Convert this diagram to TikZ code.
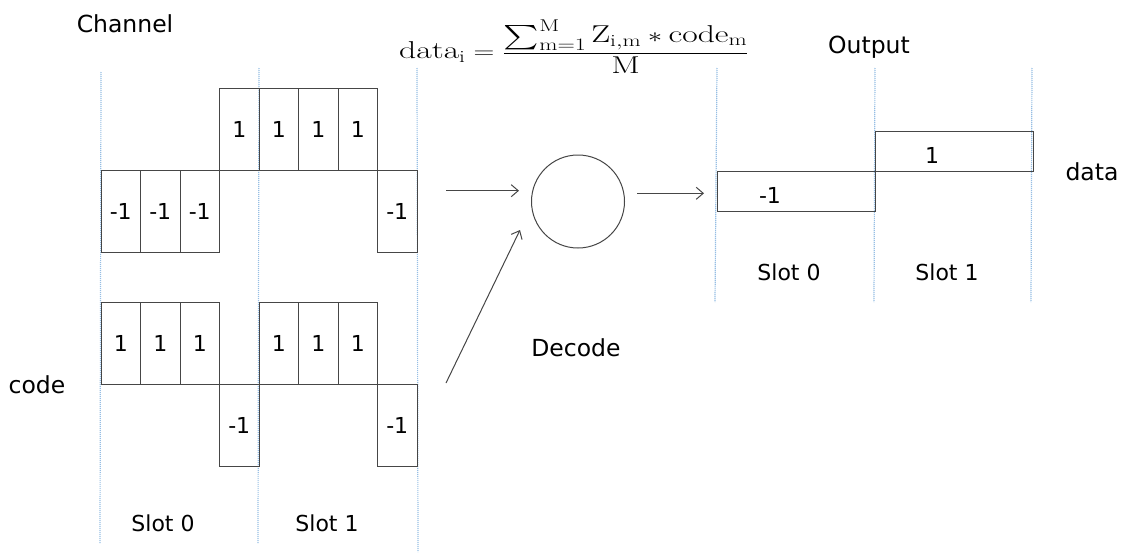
\documentclass[tikz,border=0pt]{standalone}
\usepackage{amsmath,amssymb}
\usepackage{graphicx}
\usepackage{fontspec}
\setsansfont{DejaVu Sans}
\usepackage{tikz}
\usetikzlibrary{arrows.meta,calc,positioning}
\usepackage{xcolor}
\definecolor{slotblue}{RGB}{150,190,228}
\definecolor{boxgray}{RGB}{70,70,70}

\begin{document}
\begin{tikzpicture}[x=1pt, y=-1pt,
  chip/.style={draw=boxgray, line width=1pt, minimum width=39.5pt, minimum height=82pt, inner sep=0pt, font=\sffamily\fontsize{22}{26}\selectfont},
  outbox/.style={draw=boxgray, line width=1pt, minimum width=158pt, minimum height=40pt, inner sep=0pt},
  num/.style={font=\sffamily\fontsize{22}{26}\selectfont},
  lbl/.style={font=\sffamily\fontsize{23.5}{28}\selectfont},
  slot/.style={draw=slotblue, line width=1.2pt, dash pattern=on 1.2pt off 0.8pt},
  conn/.style={draw=boxgray, line width=1pt, -{Straight Barb[length=7pt,width=12pt]}}]
\useasboundingbox (0,0) rectangle (1127,554);
% slot separators
\draw[slot] (101,72) -- (100,543);
\draw[slot] (259,68) -- (258,543);
\draw[slot] (417,68) -- (418,552);
\draw[slot] (717,68) -- (715,302);
\draw[slot] (875,68) -- (874,302);
\draw[slot] (1032,68) -- (1031,302);
% labels
\node[lbl] (chan) at (125,24) {Channel};
\node[lbl] (codelbl) at (37,385) {code};
\node[lbl] (outlbl) at (869,47) {Output};
\node[lbl] (datalbl) at (1092,172) {data};
\node[lbl] (declbl) at (576,348) {Decode};
\node[font=\fontsize{29}{34}\selectfont, inner sep=0pt] (formula) at (574,47) {\scalebox{1.16}[0.84]{$\displaystyle \mathrm{data}_{\mathrm{i}} = \frac{\sum_{\mathrm{m}=1}^{\mathrm{M}} \mathrm{Z}_{\mathrm{i,m}} * \mathrm{code}_{\mathrm{m}}}{\mathrm{M}}$}};
% channel chips
\node[chip] (c1) at (120.75,211) {-1}; \node[chip] (c2) at (160.25,211) {-1}; \node[chip] (c3) at (199.75,211) {-1};
\node[chip] (c4) at (239.25,129) {1}; \node[chip] (c5) at (278.75,129) {1}; \node[chip] (c6) at (318.25,129) {1};
\node[chip] (c7) at (357.75,129) {1}; \node[chip] (c8) at (397.25,211) {-1};
% code chips
\node[chip] (k1) at (120.75,343.5) {1}; \node[chip] (k2) at (160.25,343.5) {1}; \node[chip] (k3) at (199.75,343.5) {1};
\node[chip] (k4) at (239.25,425) {-1}; \node[chip] (k5) at (278.75,343.5) {1}; \node[chip] (k6) at (318.25,343.5) {1};
\node[chip] (k7) at (357.75,343.5) {1}; \node[chip] (k8) at (397.25,425) {-1};
\node[num] (s0) at (163,523) {Slot 0};
\node[num] (s1) at (327,523) {Slot 1};
% decoder
\node[draw=boxgray, line width=1pt, circle, minimum size=93pt, inner sep=0pt] (dec) at (578,201.5) {};
\coordinate (chanout) at (446,190.7);
\coordinate (decin) at (519,190.7);
\coordinate (codeout) at (446,383);
\coordinate (decin2) at (520,230);
\coordinate (decout) at (637,193.3);
\coordinate (outin) at (704,193.3);
\draw[conn] (chanout) -- (decin);
\draw[conn] (codeout) -- (decin2);
\draw[conn] (decout) -- (outin);
% output
\node[outbox] (o0) at (796,191.7) {};
\node[outbox] (o1) at (954,151.7) {};
\node[num] (v0) at (770,195) {-1};
\node[num] (v1) at (932,155) {1};
\node[num] (os0) at (789,272) {Slot 0};
\node[num] (os1) at (947,272) {Slot 1};
\end{tikzpicture}
\end{document}
